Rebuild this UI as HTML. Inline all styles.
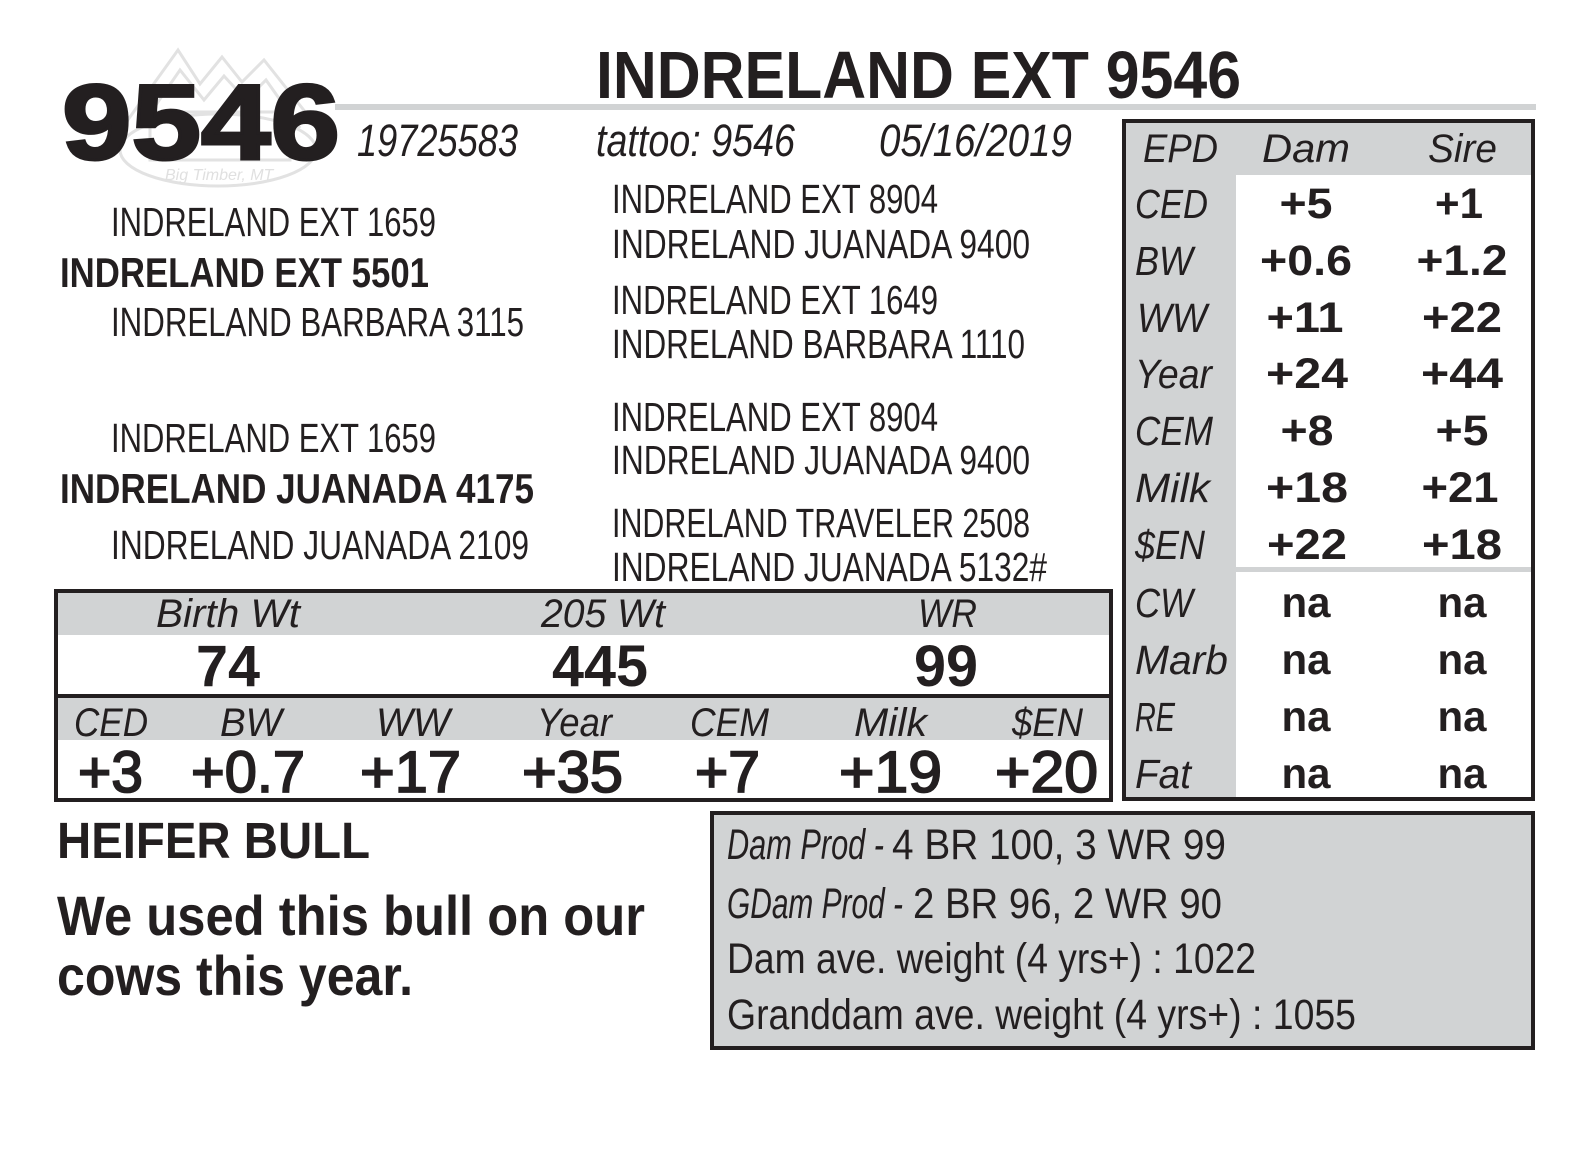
<!DOCTYPE html>
<html>
<head>
<meta charset="utf-8">
<style>
  html,body{margin:0;padding:0;background:#fff;}
  svg{display:block;}
  text{font-family:"Liberation Sans",sans-serif;fill:#231f20;}
  .b{font-weight:bold;}
  .i{font-style:italic;}
</style>
</head>
<body>
<svg width="1580" height="1151" viewBox="0 0 1580 1151" xmlns="http://www.w3.org/2000/svg">
  <rect x="0" y="0" width="1580" height="1151" fill="#ffffff"/>

  <!-- faint logo watermark -->
  <g fill="none" stroke="#e2e2e2" stroke-width="3">
    <polyline points="122,128 178,50 200,84 222,57 242,82 264,60 318,128"/>
    <polyline points="140,128 180,70 204,100 224,76 246,100 266,80 300,128"/>
    <ellipse cx="218" cy="150" rx="98" ry="36"/>
    <rect x="150" y="112" width="140" height="48"/>
  </g>
  <text x="165" y="180" font-size="16" style="fill:#e0e0e0" class="i">Big Timber, MT</text>

  <!-- gray rule -->
  <rect x="335" y="104" width="1201" height="6" fill="#d1d3d4"/>

  <!-- header -->
  <text x="62" y="159" font-size="107" class="b" textLength="278" lengthAdjust="spacingAndGlyphs" stroke="#231f20" stroke-width="3">9546</text>
  <text x="596" y="98" font-size="67" class="b" textLength="645" lengthAdjust="spacingAndGlyphs">INDRELAND EXT 9546</text>
  <text x="357" y="156" font-size="45" class="i" textLength="161" lengthAdjust="spacingAndGlyphs">19725583</text>
  <text x="596" y="156" font-size="45" class="i" textLength="199" lengthAdjust="spacingAndGlyphs">tattoo: 9546</text>
  <text x="879" y="156" font-size="45" class="i" textLength="193" lengthAdjust="spacingAndGlyphs">05/16/2019</text>

  <!-- pedigree left -->
  <text x="111" y="236" font-size="41" textLength="325" lengthAdjust="spacingAndGlyphs">INDRELAND EXT 1659</text>
  <text x="60" y="287" font-size="42" class="b" textLength="369" lengthAdjust="spacingAndGlyphs">INDRELAND EXT 5501</text>
  <text x="111" y="336" font-size="41" textLength="413" lengthAdjust="spacingAndGlyphs">INDRELAND BARBARA 3115</text>
  <text x="111" y="452" font-size="41" textLength="325" lengthAdjust="spacingAndGlyphs">INDRELAND EXT 1659</text>
  <text x="60" y="503" font-size="42" class="b" textLength="474" lengthAdjust="spacingAndGlyphs">INDRELAND JUANADA 4175</text>
  <text x="111" y="559" font-size="41" textLength="418" lengthAdjust="spacingAndGlyphs">INDRELAND JUANADA 2109</text>

  <!-- pedigree right -->
  <text x="612" y="213" font-size="41" textLength="326" lengthAdjust="spacingAndGlyphs">INDRELAND EXT 8904</text>
  <text x="612" y="258" font-size="41" textLength="418" lengthAdjust="spacingAndGlyphs">INDRELAND JUANADA 9400</text>
  <text x="612" y="314" font-size="41" textLength="326" lengthAdjust="spacingAndGlyphs">INDRELAND EXT 1649</text>
  <text x="612" y="358" font-size="41" textLength="413" lengthAdjust="spacingAndGlyphs">INDRELAND BARBARA 1110</text>
  <text x="612" y="431" font-size="41" textLength="326" lengthAdjust="spacingAndGlyphs">INDRELAND EXT 8904</text>
  <text x="612" y="474" font-size="41" textLength="418" lengthAdjust="spacingAndGlyphs">INDRELAND JUANADA 9400</text>
  <text x="612" y="537" font-size="41" textLength="418" lengthAdjust="spacingAndGlyphs">INDRELAND TRAVELER 2508</text>
  <text x="612" y="581" font-size="41" textLength="435" lengthAdjust="spacingAndGlyphs">INDRELAND JUANADA 5132#</text>

  <!-- stats box -->
  <rect x="56" y="591" width="1055" height="209" fill="#ffffff"/>
  <rect x="58" y="593" width="1051" height="42" fill="#d1d3d4"/>
  <rect x="58" y="698" width="1051" height="42" fill="#d1d3d4"/>
  <rect x="56" y="591" width="1055" height="209" fill="none" stroke="#231f20" stroke-width="4"/>
  <rect x="54" y="694" width="1059" height="4" fill="#231f20"/>

  <text x="156" y="627" font-size="40" class="i" textLength="144" lengthAdjust="spacingAndGlyphs">Birth Wt</text>
  <text x="541" y="627" font-size="40" class="i" textLength="124" lengthAdjust="spacingAndGlyphs">205 Wt</text>
  <text x="918" y="627" font-size="40" class="i" textLength="59" lengthAdjust="spacingAndGlyphs">WR</text>

  <text x="196" y="686" font-size="58" class="b" textLength="64" lengthAdjust="spacingAndGlyphs">74</text>
  <text x="552" y="686" font-size="58" class="b" textLength="96" lengthAdjust="spacingAndGlyphs">445</text>
  <text x="914" y="686" font-size="58" class="b" textLength="64" lengthAdjust="spacingAndGlyphs">99</text>

  <text x="74" y="736" font-size="40" class="i" textLength="74" lengthAdjust="spacingAndGlyphs">CED</text>
  <text x="220" y="736" font-size="40" class="i" textLength="62" lengthAdjust="spacingAndGlyphs">BW</text>
  <text x="376" y="736" font-size="40" class="i" textLength="74" lengthAdjust="spacingAndGlyphs">WW</text>
  <text x="537" y="736" font-size="40" class="i" textLength="75" lengthAdjust="spacingAndGlyphs">Year</text>
  <text x="690" y="736" font-size="40" class="i" textLength="79" lengthAdjust="spacingAndGlyphs">CEM</text>
  <text x="854" y="736" font-size="40" class="i" textLength="73" lengthAdjust="spacingAndGlyphs">Milk</text>
  <text x="1012" y="736" font-size="40" class="i" textLength="71" lengthAdjust="spacingAndGlyphs">$EN</text>

  <g stroke="#231f20" stroke-width="1.8">
  <text x="78" y="792" font-size="58" textLength="65" lengthAdjust="spacingAndGlyphs">+3</text>
  <text x="191" y="792" font-size="58" textLength="114" lengthAdjust="spacingAndGlyphs">+0.7</text>
  <text x="360" y="792" font-size="58" textLength="101" lengthAdjust="spacingAndGlyphs">+17</text>
  <text x="522" y="792" font-size="58" textLength="101" lengthAdjust="spacingAndGlyphs">+35</text>
  <text x="695" y="792" font-size="58" textLength="65" lengthAdjust="spacingAndGlyphs">+7</text>
  <text x="839" y="792" font-size="58" textLength="103" lengthAdjust="spacingAndGlyphs">+19</text>
  <text x="995" y="792" font-size="58" textLength="103" lengthAdjust="spacingAndGlyphs">+20</text>
  </g>

  <!-- EPD box -->
  <rect x="1124" y="121" width="409" height="678" fill="#ffffff"/>
  <rect x="1126" y="123" width="405" height="52" fill="#d1d3d4"/>
  <rect x="1126" y="175" width="110" height="622" fill="#d1d3d4"/>
  <rect x="1236" y="567" width="295" height="5" fill="#d1d3d4"/>
  <rect x="1124" y="121" width="409" height="678" fill="none" stroke="#231f20" stroke-width="4"/>

  <text x="1143" y="162" font-size="40" class="i" textLength="75" lengthAdjust="spacingAndGlyphs">EPD</text>
  <text x="1262" y="162" font-size="40" class="i" textLength="88" lengthAdjust="spacingAndGlyphs">Dam</text>
  <text x="1428" y="162" font-size="40" class="i" textLength="69" lengthAdjust="spacingAndGlyphs">Sire</text>

  <g font-size="41">
    <text x="1135" y="218" class="i" textLength="73" lengthAdjust="spacingAndGlyphs">CED</text>
    <text x="1135" y="275" class="i" textLength="58" lengthAdjust="spacingAndGlyphs">BW</text>
    <text x="1137" y="332" class="i" textLength="70" lengthAdjust="spacingAndGlyphs">WW</text>
    <text x="1135" y="388" class="i" textLength="77" lengthAdjust="spacingAndGlyphs">Year</text>
    <text x="1135" y="445" class="i" textLength="78" lengthAdjust="spacingAndGlyphs">CEM</text>
    <text x="1135" y="502" class="i" textLength="75" lengthAdjust="spacingAndGlyphs">Milk</text>
    <text x="1135" y="559" class="i" textLength="70" lengthAdjust="spacingAndGlyphs">$EN</text>
    <text x="1135" y="617" class="i" textLength="58" lengthAdjust="spacingAndGlyphs">CW</text>
    <text x="1135" y="674" class="i" textLength="93" lengthAdjust="spacingAndGlyphs">Marb</text>
    <text x="1135" y="731" class="i" textLength="40" lengthAdjust="spacingAndGlyphs">RE</text>
    <text x="1135" y="788" class="i" textLength="56" lengthAdjust="spacingAndGlyphs">Fat</text>
  </g>

  <g font-size="43" text-anchor="middle">
    <text x="1306" y="218" class="b" textLength="53" lengthAdjust="spacingAndGlyphs">+5</text>
    <text x="1459" y="218" class="b" textLength="48" lengthAdjust="spacingAndGlyphs">+1</text>
    <text x="1306" y="275" class="b" textLength="92" lengthAdjust="spacingAndGlyphs">+0.6</text>
    <text x="1462" y="275" class="b" textLength="91" lengthAdjust="spacingAndGlyphs">+1.2</text>
    <text x="1305" y="332" class="b" textLength="77" lengthAdjust="spacingAndGlyphs">+11</text>
    <text x="1462" y="332" class="b" textLength="80" lengthAdjust="spacingAndGlyphs">+22</text>
    <text x="1307" y="388" class="b" textLength="82" lengthAdjust="spacingAndGlyphs">+24</text>
    <text x="1462" y="388" class="b" textLength="82" lengthAdjust="spacingAndGlyphs">+44</text>
    <text x="1307" y="445" class="b" textLength="53" lengthAdjust="spacingAndGlyphs">+8</text>
    <text x="1462" y="445" class="b" textLength="53" lengthAdjust="spacingAndGlyphs">+5</text>
    <text x="1307" y="502" class="b" textLength="82" lengthAdjust="spacingAndGlyphs">+18</text>
    <text x="1460" y="502" class="b" textLength="77" lengthAdjust="spacingAndGlyphs">+21</text>
    <text x="1307" y="559" class="b" textLength="80" lengthAdjust="spacingAndGlyphs">+22</text>
    <text x="1462" y="559" class="b" textLength="80" lengthAdjust="spacingAndGlyphs">+18</text>
    <text x="1306" y="617" class="b" textLength="49" lengthAdjust="spacingAndGlyphs">na</text>
    <text x="1462" y="617" class="b" textLength="49" lengthAdjust="spacingAndGlyphs">na</text>
    <text x="1306" y="674" class="b" textLength="49" lengthAdjust="spacingAndGlyphs">na</text>
    <text x="1462" y="674" class="b" textLength="49" lengthAdjust="spacingAndGlyphs">na</text>
    <text x="1306" y="731" class="b" textLength="49" lengthAdjust="spacingAndGlyphs">na</text>
    <text x="1462" y="731" class="b" textLength="49" lengthAdjust="spacingAndGlyphs">na</text>
    <text x="1306" y="788" class="b" textLength="49" lengthAdjust="spacingAndGlyphs">na</text>
    <text x="1462" y="788" class="b" textLength="49" lengthAdjust="spacingAndGlyphs">na</text>
  </g>

  <!-- bottom left remarks -->
  <text x="57" y="858" font-size="51" class="b" textLength="313" lengthAdjust="spacingAndGlyphs">HEIFER BULL</text>
  <text x="57" y="935" font-size="56" class="b" textLength="588" lengthAdjust="spacingAndGlyphs">We used this bull on our</text>
  <text x="57" y="995" font-size="56" class="b" textLength="356" lengthAdjust="spacingAndGlyphs">cows this year.</text>

  <!-- production box -->
  <rect x="712" y="813" width="821" height="235" fill="#d1d3d4" stroke="#231f20" stroke-width="4"/>
  <text x="727" y="859" font-size="43" class="i" textLength="157" lengthAdjust="spacingAndGlyphs">Dam Prod -</text>
  <text x="892" y="859" font-size="43" textLength="334" lengthAdjust="spacingAndGlyphs">4 BR 100, 3 WR 99</text>
  <text x="727" y="918" font-size="43" class="i" textLength="176" lengthAdjust="spacingAndGlyphs">GDam Prod -</text>
  <text x="913" y="918" font-size="43" textLength="309" lengthAdjust="spacingAndGlyphs">2 BR 96, 2 WR 90</text>
  <text x="727" y="973" font-size="43" textLength="529" lengthAdjust="spacingAndGlyphs">Dam ave. weight (4 yrs+) : 1022</text>
  <text x="727" y="1029" font-size="43" textLength="629" lengthAdjust="spacingAndGlyphs">Granddam ave. weight (4 yrs+) : 1055</text>
</svg>
</body>
</html>
